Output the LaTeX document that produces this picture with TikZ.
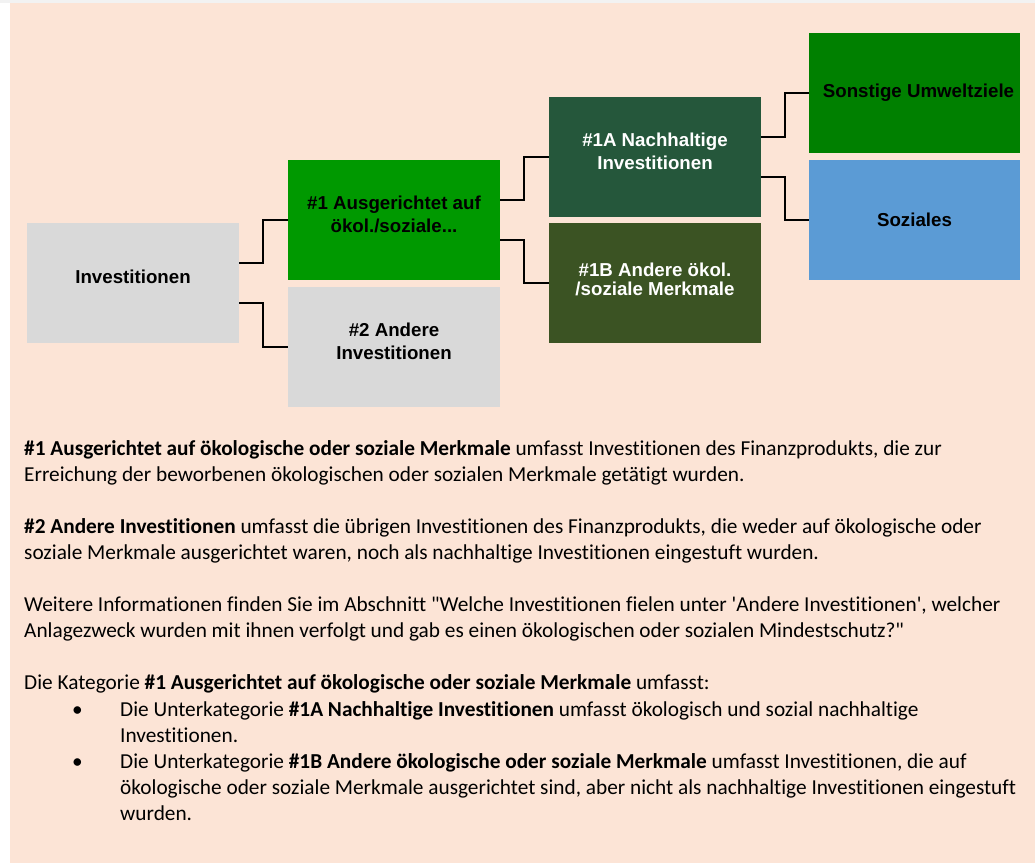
\documentclass[tikz,border=0pt]{standalone}
\usepackage{fontspec}
\setmainfont{Carlito}[Ligatures={TeXOff,NoCommon}]
\newfontfamily\arialfont{Liberation Sans}
\usetikzlibrary{positioning}
\usetikzlibrary{calc}
\definecolor{peach}{HTML}{FCE4D6}
\definecolor{greybox}{HTML}{D9D9D9}
\definecolor{grpone}{HTML}{009900}
\definecolor{grponeA}{HTML}{25573B}
\definecolor{grponeB}{HTML}{3B5323}
\definecolor{envgreen}{HTML}{008000}
\definecolor{socblue}{HTML}{5B9BD5}
\tikzset{box/.style = {fill=#1, minimum width=212, minimum height=120, inner sep=0, align=center, font=\arialfont\bfseries\fontsize{18.7}{23}\selectfont}}
\tikzset{raised/.style = {text depth=12pt}}
\tikzset{link/.style = {line width=2.2, black}}
\tikzset{bodytext/.style = {anchor=base west, inner sep=0, align=left, font=\fontsize{21.3}{26.1}\selectfont}}

\begin{document}
\begin{tikzpicture}[x=1pt,y=-1pt]
        \useasboundingbox (0,0) rectangle (1035,863);
        \fill [white] (0,0) rectangle (1035,863);
        \fill [black!5] (0,0) rectangle (1035,3);
        \fill [peach] (10,3) rectangle (1035,863);
        % the boxes
        \node [box=greybox, raised] (inv) at (133,283) {Investitionen};
        \node [box=grpone, raised] (one) at (394,220) {\#1 Ausgerichtet auf\\ökol./soziale...};
        \node [box=greybox, raised] (two) at (394,347) {\#2 Andere\\Investitionen};
        \node [box=grponeA, raised, text=white] (oneA) at (655,157) {\#1A Nachhaltige\\Investitionen};
        \node [box=grponeB, text=white, text depth=7pt] (oneB) at (655,283) {\#1B Andere ökol.\\[-4pt]/soziale Merkmale};
        \node [box=envgreen, minimum width=211] (env) at (914.5,93) {\hspace*{8pt}Sonstige Umweltziele};
        \node [box=socblue, minimum width=211] (soc) at (914.5,220) {Soziales};
        % the connectors
        \draw [link] ($(inv.north east)!1/3!(inv.south east)$) -- ++(24,0) |- (one.west);
        \draw [link] ($(inv.north east)!2/3!(inv.south east)$) -- ++(24,0) |- (two.west);
        \draw [link] ($(one.north east)!1/3!(one.south east)$) -- ++(24,0) |- (oneA.west);
        \draw [link] ($(one.north east)!2/3!(one.south east)$) -- ++(24,0) |- (oneB.west);
        \draw [link] ($(oneA.north east)!1/3!(oneA.south east)$) -- ++(24,0) |- (env.west);
        \draw [link] ($(oneA.north east)!2/3!(oneA.south east)$) -- ++(24,0) |- (soc.west);
        % the text below (base anchor sits on the last line)
        \node [bodytext] (para1) at (24,481.1) {\textbf{\#1 Ausgerichtet auf ökologische oder soziale Merkmale} umfasst Investitionen des Finanzprodukts, die zur\\Erreichung der beworbenen ökologischen oder sozialen Merkmale getätigt wurden.};
        \node [bodytext] (para2) at (24,559.4) {\textbf{\#2 Andere Investitionen} umfasst die übrigen Investitionen des Finanzprodukts, die weder auf ökologische oder\\soziale Merkmale ausgerichtet waren, noch als nachhaltige Investitionen eingestuft wurden.};
        \node [bodytext] (para3) at (24,637.7) {Weitere Informationen finden Sie im Abschnitt "Welche Investitionen fielen unter 'Andere Investitionen', welcher\\Anlagezweck wurden mit ihnen verfolgt und gab es einen ökologischen oder sozialen Mindestschutz?"};
        \node [bodytext] (para4) at (24,689.9) {Die Kategorie \textbf{\#1 Ausgerichtet auf ökologische oder soziale Merkmale} umfasst:};
        \node [bodytext] (item1) at (120,742.1) {\llap{\makebox[48pt][l]{\textbullet}}Die Unterkategorie \textbf{\#1A Nachhaltige Investitionen} umfasst ökologisch und sozial nachhaltige\\Investitionen.};
        \node [bodytext] (item2) at (120,820.4) {\llap{\makebox[48pt][l]{\textbullet}}Die Unterkategorie \textbf{\#1B Andere ökologische oder soziale Merkmale} umfasst Investitionen, die auf\\ökologische oder soziale Merkmale ausgerichtet sind, aber nicht als nachhaltige Investitionen eingestuft\\wurden.};
    \end{tikzpicture}
\end{document}
